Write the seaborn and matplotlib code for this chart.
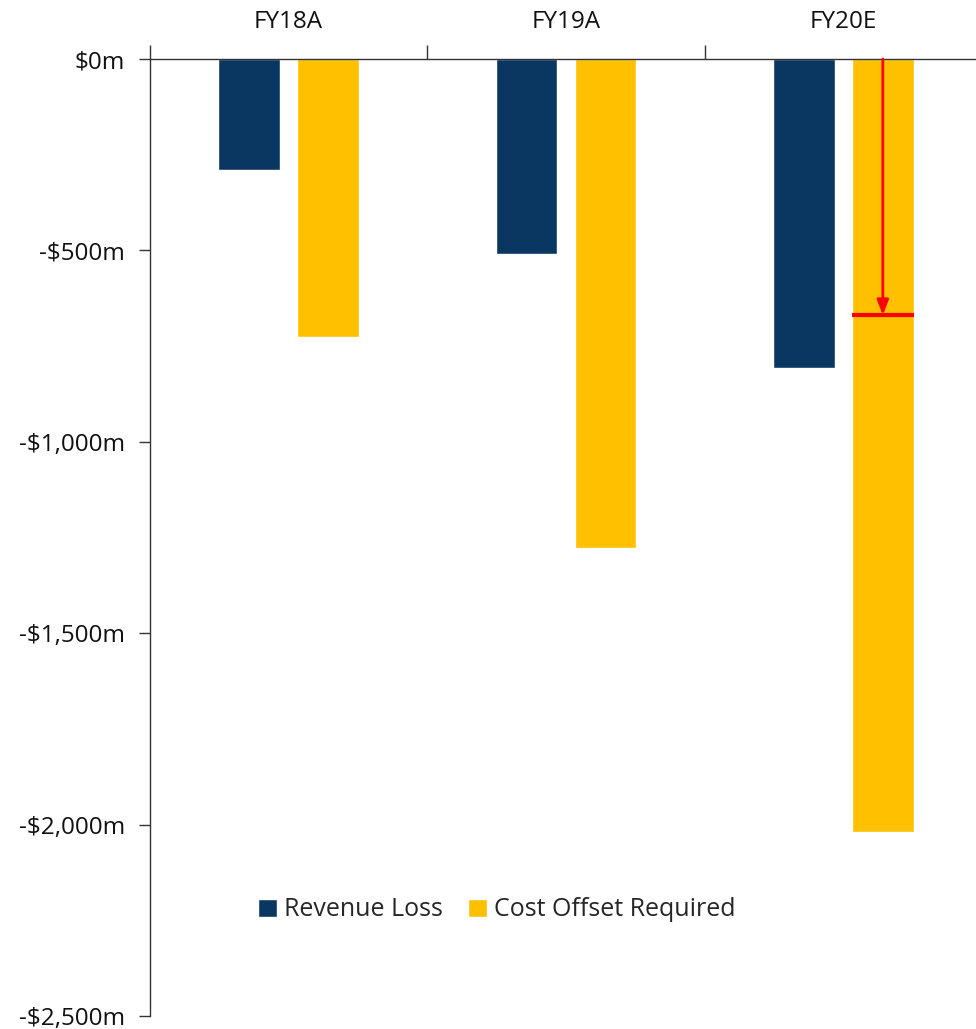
import matplotlib
matplotlib.use("Agg")
import matplotlib.pyplot as plt
import seaborn as sns
import pandas as pd
from matplotlib.ticker import FuncFormatter
from matplotlib.patches import Patch

years = ["FY18A", "FY19A", "FY20E"]
revenue_loss = [-290, -510, -808]
cost_offset = [-727, -1277, -2020]
target_level = -669
series_names = ["Revenue Loss", "Cost Offset Required"]
colors = ["#0A3761", "#FFC000"]

df = pd.DataFrame({
    "year": years * 2,
    "value": revenue_loss + cost_offset,
    "series": [series_names[0]] * 3 + [series_names[1]] * 3,
})

sns.set_style("white")
plt.rcParams["font.family"] = ["Open Sans", "DejaVu Sans"]

fig = plt.figure(figsize=(9.76, 10.29), dpi=100)
ax = fig.add_axes([150 / 976, 1 - 1016 / 1029, 1 - 150 / 976, (1016 - 59) / 1029])

sns.barplot(data=df, x="year", y="value", hue="series", palette=colors,
            width=0.57, gap=0.22, ax=ax, legend=False, saturation=1)

ax.set_ylim(-2500, 0)
ax.set_xlim(-0.5, 2.5 - 6 / 278)
ax.set_yticks([0, -500, -1000, -1500, -2000, -2500])

def fmt(v, pos):
    v = int(round(v))
    if v == 0:
        return "$0m"
    return "-${:,}m".format(abs(v))

ax.yaxis.set_major_formatter(FuncFormatter(fmt))
ax.xaxis.tick_top()
ax.set_xlabel("")
ax.set_ylabel("")
ax.tick_params(axis="x", which="major", length=0, labelsize=17.5, pad=18, labelcolor="#111111")
ax.tick_params(axis="y", which="major", left=True, length=8, width=1, labelsize=17.5, pad=10,
               color="#333333", labelcolor="#111111", direction="out")
ax.set_xticks([-0.5, 0.5, 1.5], minor=True)
ax.tick_params(axis="x", which="minor", length=10, width=1, top=True, bottom=False,
               direction="out", color="#333333")

for s in ["right", "bottom"]:
    ax.spines[s].set_visible(False)
for s in ["top", "left"]:
    ax.spines[s].set_color("#333333")
    ax.spines[s].set_linewidth(1)

# keep the bottom tick label inside the figure
for lbl in ax.get_yticklabels():
    lbl.set_verticalalignment("center_baseline")

# red arrow and target line on FY20E cost offset bar
target_bar = None
for p in ax.patches:
    if abs(p.get_height() - cost_offset[2]) < 1e-6:
        target_bar = p
xc = target_bar.get_x() + target_bar.get_width() / 2
ax.annotate("", xy=(xc, target_level), xytext=(xc, 0),
            arrowprops=dict(arrowstyle="-|>,head_length=0.9,head_width=0.35", color="#FF0000", lw=2,
                            shrinkA=0, shrinkB=0), zorder=5)
ax.hlines(target_level, target_bar.get_x(), target_bar.get_x() + target_bar.get_width(),
          color="#FF0000", lw=3, zorder=5)

handles = [Patch(facecolor=c, label=n) for c, n in zip(colors, series_names)]
fig.legend(handles=handles, loc="center", bbox_to_anchor=(497 / 976, 1 - 910 / 1029),
           ncol=2, frameon=False, fontsize=18, handlelength=0.75, handleheight=0.75,
           handletextpad=0.3, columnspacing=1.0)

fig.savefig("out.png", dpi=100)
